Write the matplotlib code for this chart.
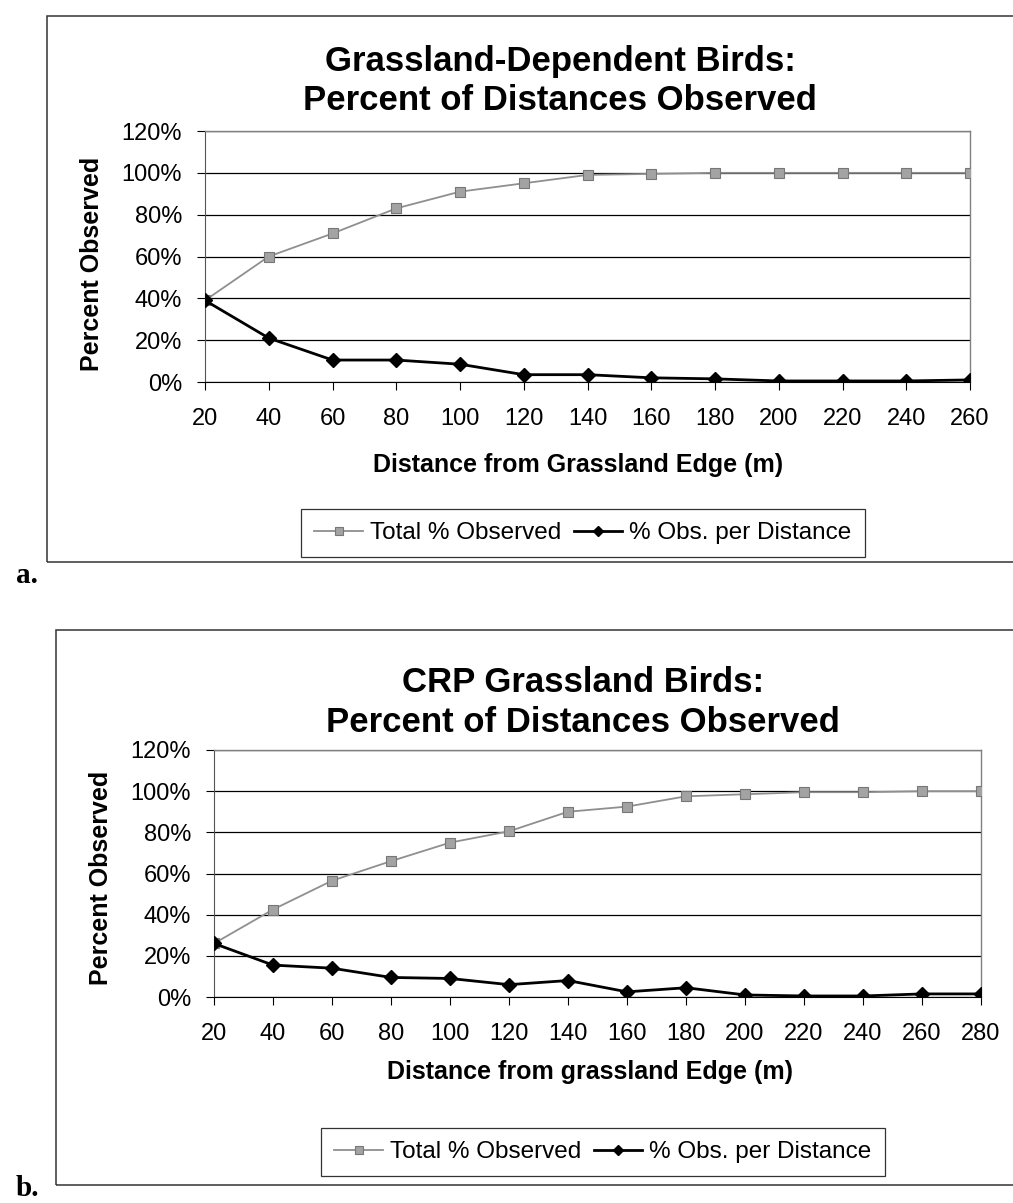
import matplotlib
matplotlib.use("Agg")
import matplotlib.pyplot as plt
from matplotlib.patches import Rectangle
from matplotlib.ticker import FuncFormatter, FixedLocator

plt.rcParams['font.family'] = ['Liberation Sans', 'DejaVu Sans']

# Panel a: grassland-dependent birds
dist_a = [20, 40, 60, 80, 100, 120, 140, 160, 180, 200, 220, 240, 260]
total_a = [39, 60, 71, 83, 91, 95, 99, 99.5, 100, 100, 100, 100, 100]
per_a = [39, 21, 10.5, 10.5, 8.5, 3.5, 3.5, 2, 1.5, 0.5, 0.5, 0.5, 1]

# Panel b: CRP grassland birds
dist_b = [20, 40, 60, 80, 100, 120, 140, 160, 180, 200, 220, 240, 260, 280]
total_b = [26, 42.5, 56.5, 66, 75, 80.5, 90, 92.5, 97.5, 98.5, 99.5, 99.5, 100, 100]
per_b = [26, 15.5, 14, 9.5, 9, 6, 8, 2.5, 4.5, 1, 0.5, 0.5, 1.5, 1.5]

y_ticks = [0, 20, 40, 60, 80, 100, 120]

W, H = 1013, 1203
fig = plt.figure(figsize=(W / 100, H / 100), dpi=100)


def fx(px):
    return px / W


def fy(py):
    return 1 - py / H


def panel(rect_px, box_px, dist, total, per, titles, xlabel, title_xy, xlabel_xy,
          ylabel_xy, legend_xy, tag, tag_xy):
    left, top, right, bottom = rect_px
    ax = fig.add_axes([fx(left), fy(bottom), fx(right - left), (bottom - top) / H])
    ax.plot(dist, total, color='#8f8f8f', lw=1.3, marker='s', ms=7.5,
            mfc='#a3a3a3', mec='#777777', mew=0.8, label='Total % Observed', zorder=3)
    ax.plot(dist, per, color='black', lw=2.0, marker='D', ms=7,
            mfc='black', mec='black', label='% Obs. per Distance', zorder=4)
    ax.set_xlim(dist[0], dist[-1])
    ax.set_ylim(0, 120)
    ax.yaxis.set_major_locator(FixedLocator(y_ticks))
    ax.yaxis.set_major_formatter(FuncFormatter(lambda v, p: f"{int(v)}%"))
    ax.set_xticks(dist)
    ax.set_xticklabels([str(d) for d in dist])
    ax.grid(axis='y', color='black', lw=0.9)
    ax.set_axisbelow(True)
    for s in ('top', 'right'):
        ax.spines[s].set_color('#808080')
        ax.spines[s].set_linewidth(1.0)
    ax.spines['left'].set_color('#555555')
    ax.spines['bottom'].set_color('black')
    ax.tick_params(axis='y', direction='out', length=5.5, width=0.8, pad=11,
                   labelsize=17)
    ax.tick_params(axis='x', direction='out', length=5.5, width=0.8, pad=13,
                   labelsize=17)

    # chart frame
    bl, bt, bb = box_px
    fig.patches.append(Rectangle((fx(bl), fy(bb)), 1.2, (bb - bt) / H,
                                 transform=fig.transFigure, fill=False,
                                 edgecolor='#333333', lw=1.1))
    tx, ty1, ty2 = title_xy
    fig.text(fx(tx), fy(ty1), titles[0], ha='center', va='center',
             fontsize=25, fontweight='bold')
    fig.text(fx(tx), fy(ty2), titles[1], ha='center', va='center',
             fontsize=25, fontweight='bold')
    fig.text(fx(xlabel_xy[0]), fy(xlabel_xy[1]), xlabel, ha='center', va='center',
             fontsize=18, fontweight='bold')
    fig.text(fx(ylabel_xy[0]), fy(ylabel_xy[1]), 'Percent Observed', ha='center',
             va='center', rotation=90, fontsize=18, fontweight='bold')
    leg = ax.legend(loc='center', bbox_to_anchor=(fx(legend_xy[0]), fy(legend_xy[1])),
                    bbox_transform=fig.transFigure, ncol=2, frameon=True,
                    fancybox=False, edgecolor='black', fontsize=17.5,
                    handlelength=2.0, handletextpad=0.3, columnspacing=0.5,
                    borderpad=0.55, markerscale=0.8)
    leg.get_frame().set_linewidth(0.9)
    fig.text(fx(tag_xy[0]), fy(tag_xy[1]), tag, ha='left', va='center',
             fontsize=21, fontweight='bold', family=['Liberation Serif', 'DejaVu Serif'])
    return ax


panel((205, 131, 970, 382), (47, 16, 562), dist_a, total_a, per_a,
      ('Grassland-Dependent Birds:', 'Percent of Distances Observed'),
      'Distance from Grassland Edge (m)', (560, 62, 101), (578, 465),
      (92, 264), (583, 533), 'a.', (16, 576))

panel((214, 750, 981, 997), (56, 630, 1185), dist_b, total_b, per_b,
      ('CRP Grassland Birds:', 'Percent of Distances Observed'),
      'Distance from grassland Edge (m)', (583, 683, 722), (590, 1072),
      (101, 878), (603, 1152), 'b.', (16, 1188))

fig.savefig('out.png', dpi=100)
